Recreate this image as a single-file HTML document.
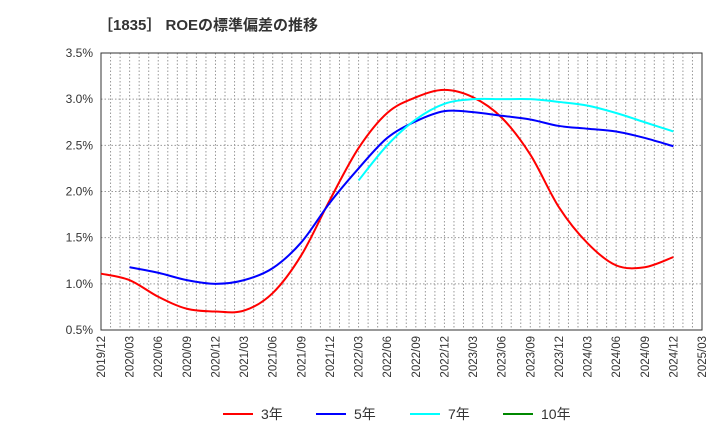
<!DOCTYPE html>
<html><head><meta charset="utf-8"><style>
body{margin:0;background:#fff;font-family:"Liberation Sans","Noto Sans CJK JP",sans-serif}
</style></head><body>
<svg id="c" width="720" height="440" xmlns="http://www.w3.org/2000/svg">
<text x="98" y="30" font-size="15" font-weight="bold" fill="#333">［1835］ ROEの標準偏差の推移</text>
<g id="grid"></g><g id="axes"></g><g id="series"></g><g id="legend"></g>
</svg>
<script>
const xLabels=["2019/12","2020/03","2020/06","2020/09","2020/12","2021/03","2021/06","2021/09","2021/12","2022/03","2022/06","2022/09","2022/12","2023/03","2023/06","2023/09","2023/12","2024/03","2024/06","2024/09","2024/12","2025/03"];
const yTicks=[0.5,1.0,1.5,2.0,2.5,3.0,3.5];
const s3=[1.11,1.04,0.86,0.73,0.70,0.71,0.90,1.31,1.91,2.47,2.85,3.02,3.10,3.02,2.80,2.40,1.83,1.44,1.20,1.18,1.29];
const s5=[null,1.18,1.12,1.04,1.00,1.04,1.17,1.45,1.88,2.25,2.58,2.76,2.87,2.86,2.82,2.78,2.71,2.68,2.65,2.58,2.49];
const s7=[null,null,null,null,null,null,null,null,null,2.12,2.50,2.78,2.95,3.00,3.00,3.00,2.97,2.93,2.85,2.75,2.65];
const s10=[];
const L=101,R=702,T=53,B=330,NS="http://www.w3.org/2000/svg";
const X=i=>L+(R-L)*i/21, Y=v=>B-(v-0.5)/3*(B-T);
function mk(tag,at,p){const e=document.createElementNS(NS,tag);for(const k in at)e.setAttribute(k,at[k]);p.appendChild(e);return e;}
const g=document.getElementById('grid'),a=document.getElementById('axes'),s=document.getElementById('series'),lg=document.getElementById('legend');
for(let m=1;m<63;m++){const x=L+(R-L)*m/63;const l=mk('line',{x1:x,x2:x,y1:T,y2:B,stroke:'#999','stroke-dasharray':'1.5,2','stroke-width':1},g);}
yTicks.forEach(v=>{const y=Y(v);const l=mk('line',{x1:L,x2:R,y1:y,y2:y,stroke:'#999','stroke-dasharray':'1.5,2'},g);
const t=mk('text',{x:L-8,y:y+4,'text-anchor':'end','font-size':12,fill:'#333'},a);t.textContent=v.toFixed(1)+'%';});
const fr=mk('rect',{x:L,y:T,width:R-L,height:B-T,fill:'none',stroke:'#333'},a);
xLabels.forEach((lb,i)=>{const x=X(i);const t=mk('text',{x:0,y:0,transform:`translate(${x+4},${B+6}) rotate(-90)`,'text-anchor':'end','font-size':11.5,fill:'#333'},a);t.textContent=lb;});
function path(arr){const p=[];arr.forEach((v,i)=>{if(v!=null)p.push([X(i),Y(v)]);});if(p.length<2)return '';let d=`M${p[0][0]},${p[0][1]}`;
for(let i=0;i<p.length-1;i++){const p0=p[i-1]||p[i],p1=p[i],p2=p[i+1],p3=p[i+2]||p2;const k=1/6;
d+=` C${p1[0]+(p2[0]-p0[0])*k},${p1[1]+(p2[1]-p0[1])*k} ${p2[0]-(p3[0]-p1[0])*k},${p2[1]-(p3[1]-p1[1])*k} ${p2[0]},${p2[1]}`;}return d;}
const ser=[[s3,'#f00','3年','series-3y'],[s5,'#00f','5年','series-5y'],[s7,'#0ff','7年','series-7y'],[s10,'#080','10年','series-10y']];
ser.forEach(([arr,c,n,id],k)=>{const d=path(arr);if(d){const e=mk('path',{d:d,fill:'none',stroke:c,'stroke-width':2},s);}
const lx=[223,316,410,503][k];const ln=mk('line',{x1:lx,x2:lx+30,y1:414,y2:414,stroke:c,'stroke-width':2},lg);
const t=mk('text',{x:lx+38,y:419,'font-size':14,fill:'#333'},lg);t.textContent=n;});
</script>
</body></html>
